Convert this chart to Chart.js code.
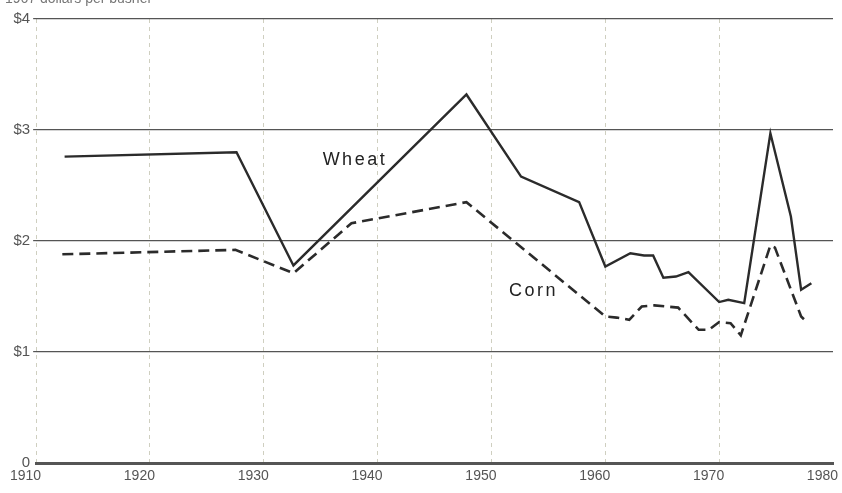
<!DOCTYPE html>
<html lang="en">
<head>
  <meta charset="UTF-8">
  <title>Wheat and corn prices</title>
  <script src="https://cdn.jsdelivr.net/npm/chart.js"></script>
  <style>
    html, body { margin: 0; padding: 0; background: #fff; }
    #wrap { width: 842px; height: 493px; position: relative; }
  </style>
</head>
<body>
<div id="wrap"><canvas id="priceChart"></canvas></div>

<script>
  // values (dollars per bushel)
  const wheatYears = [1912.5, 1927.6, 1932.6, 1947.8, 1952.6, 1957.7, 1960, 1962.2, 1963.4, 1964.2,
    1965.1, 1966.2, 1967.3, 1970, 1970.8, 1972.2, 1974.5, 1976.3, 1977.2, 1978.1];
  const wheatPrice = [2.76, 2.80, 1.78, 3.32, 2.58, 2.35, 1.77, 1.89, 1.87, 1.87,
    1.67, 1.68, 1.72, 1.45, 1.47, 1.44, 2.97, 2.22, 1.56, 1.62];

  const cornYears = [1912.3, 1927.5, 1932.6, 1937.7, 1947.8, 1960, 1961, 1962.1, 1963.2, 1964.3,
    1966.4, 1968.2, 1969.1, 1970, 1971, 1971.9, 1974.5, 1974.9, 1977.2, 1977.8];
  const cornPrice = [1.88, 1.92, 1.71, 2.16, 2.35, 1.32, 1.31, 1.29, 1.41, 1.42,
    1.40, 1.20, 1.20, 1.27, 1.26, 1.15, 1.96, 1.94, 1.32, 1.26];

  const yTicks = [0, 1, 2, 3, 4];
  const yTickLabels = ['0', '$1', '$2', '$3', '$4'];
  const unitLabel = '1967 dollars per bushel';

  // series name labels placed on the chart, in data units
  const seriesLabels = [
    { text: 'Wheat', year: 1938.0, value: 2.73 },
    { text: 'Corn', year: 1953.7, value: 1.55 }
  ];

  const toPoints = (xs, ys) => xs.map((x, i) => ({ x: x, y: ys[i] }));

  const textPlugin = {
    id: 'textPlugin',
    afterDatasetsDraw(chart) {
      const ctx = chart.ctx;
      const xs = chart.scales.x, ys = chart.scales.y;
      ctx.save();
      ctx.fillStyle = '#222';
      ctx.font = '18px "Liberation Sans", Arial, sans-serif';
      ctx.letterSpacing = '2.5px';
      ctx.textAlign = 'center';
      ctx.textBaseline = 'middle';
      seriesLabels.forEach(l => {
        ctx.fillText(l.text, xs.getPixelForValue(l.year), ys.getPixelForValue(l.value));
      });
      // unit line, cut off at the top edge like the scan
      ctx.letterSpacing = '0px';
      ctx.fillStyle = '#777';
      ctx.font = '14px "Liberation Sans", Arial, sans-serif';
      ctx.textAlign = 'left';
      ctx.textBaseline = 'alphabetic';
      ctx.fillText(unitLabel, 5, 3);
      ctx.restore();
    }
  };

  new Chart(document.getElementById('priceChart').getContext('2d'), {
    type: 'line',
    data: {
      datasets: [{
        label: 'Wheat',
        data: toPoints(wheatYears, wheatPrice),
        borderColor: '#2b2b2b',
        borderWidth: 2.4,
        pointRadius: 0,
        tension: 0,
        fill: false
      }, {
        label: 'Corn',
        data: toPoints(cornYears, cornPrice),
        borderColor: '#2b2b2b',
        borderWidth: 2.6,
        borderDash: [11, 6],
        pointRadius: 0,
        tension: 0,
        fill: false
      }]
    },
    options: {
      responsive: true,
      maintainAspectRatio: false,
      animation: false,
      layout: { padding: { top: 19, right: 9, left: 0, bottom: 0 } },
      plugins: {
        legend: { display: false },
        tooltip: { enabled: false }
      },
      scales: {
        x: {
          type: 'linear',
          min: 1910,
          max: 1980,
          afterFit: s => { s.height = 30; },
          ticks: {
            stepSize: 10,
            align: 'end',
            labelOffset: 5,
            padding: 5,
            color: '#555',
            font: { family: '"Liberation Sans", Arial, sans-serif', size: 14 },
            callback: v => String(v)
          },
          grid: {
            drawTicks: false,
            color: c => (c.tick && c.tick.value === 1980) ? 'rgba(0,0,0,0)' : '#cfcfc0',
            lineWidth: 1
          },
          // dash here styles the vertical grid lines
          border: { display: true, color: '#555', width: 3, dash: [4, 4] }
        },
        y: {
          min: 0,
          max: 4,
          afterFit: s => { s.width = 34; },
          afterBuildTicks: s => { s.ticks = yTicks.map(v => ({ value: v })); },
          ticks: {
            padding: 3,
            color: '#555',
            font: { family: '"Liberation Sans", Arial, sans-serif', size: 15 },
            callback: v => yTickLabels[yTicks.indexOf(v)]
          },
          grid: {
            color: '#555',
            lineWidth: c => (c.tick && c.tick.value === 0) ? 0 : 1.2,
            tickLength: 3
          },
          border: { display: false }
        }
      }
    },
    plugins: [textPlugin]
  });
</script>
</body>
</html>
